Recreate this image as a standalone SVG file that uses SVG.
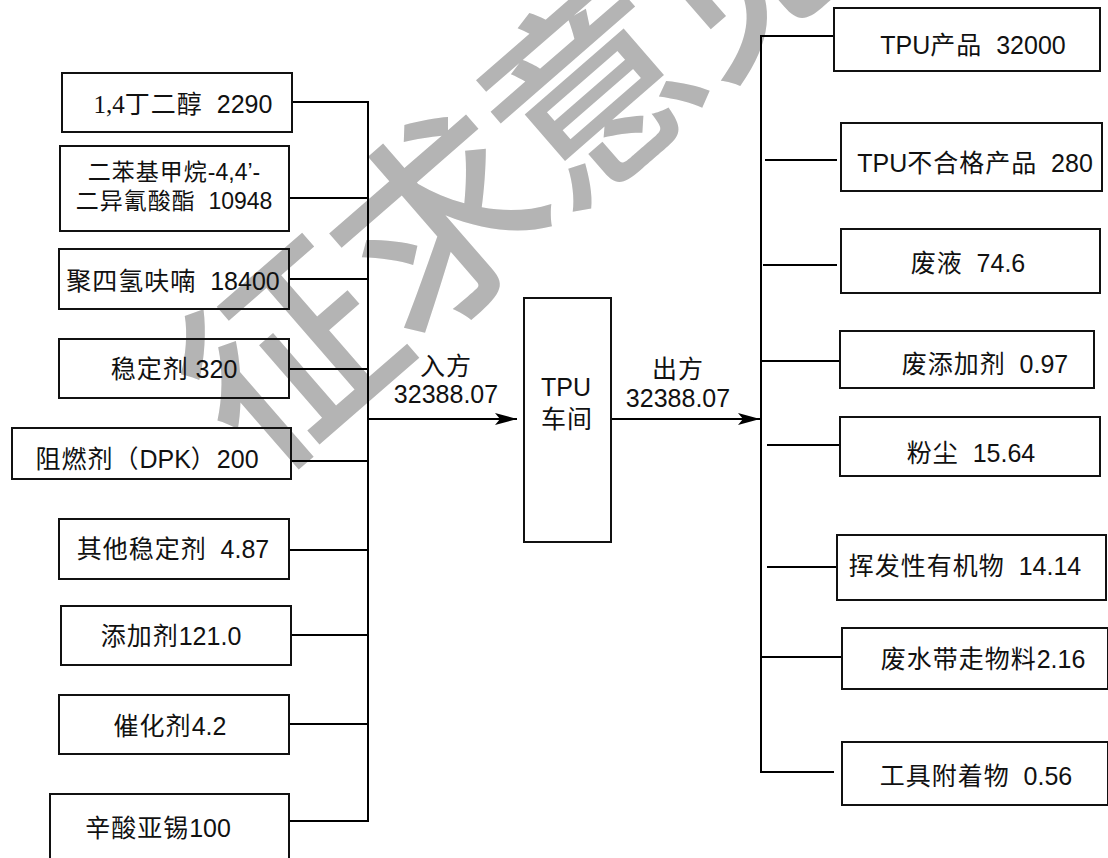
<svg xmlns="http://www.w3.org/2000/svg" width="1108" height="858" viewBox="0 0 1108 858">
<style>
  .box { fill: none; stroke: #111; stroke-width: 2; }
  .ln { fill: none; stroke: #000; stroke-width: 2; }
  text { font-family: "Liberation Sans", "Noto Sans CJK SC", Arial, sans-serif; font-size: 25px; fill: #111; text-anchor: middle; white-space: pre; }
  .c { font-family: "Noto Sans CJK SC", sans-serif; letter-spacing: 1px; }
  .s { font-family: "Liberation Serif", serif; }
  .sm { font-size: 23px; }
  .wm { font-family: "Noto Sans CJK SC", sans-serif; font-size: 206px; font-weight: 500; letter-spacing: -6px; fill: #b4b4b4; dominant-baseline: central; }
</style>
<defs>
  <marker id="arr" markerUnits="userSpaceOnUse" markerWidth="22" markerHeight="12" refX="22" refY="6" orient="auto">
    <path d="M0,0 L22,6 L0,12 L5,6 Z" fill="#000"/>
  </marker>
</defs>
<rect width="1108" height="858" fill="#fff"/>
<text class="wm" x="504" y="149" transform="rotate(-41 504 149)">征求意见</text>

<g id="connectors">
  <line class="ln" x1="292" y1="102" x2="368" y2="102"/>
  <line class="ln" x1="289" y1="198" x2="368" y2="198"/>
  <line class="ln" x1="289" y1="279" x2="368" y2="279"/>
  <line class="ln" x1="289" y1="369" x2="368" y2="369"/>
  <line class="ln" x1="291" y1="461" x2="368" y2="461"/>
  <line class="ln" x1="289" y1="550" x2="368" y2="550"/>
  <line class="ln" x1="291" y1="635" x2="368" y2="635"/>
  <line class="ln" x1="289" y1="724" x2="368" y2="724"/>
  <line class="ln" x1="289" y1="821" x2="368" y2="821"/>
  <line class="ln" x1="368" y1="101" x2="368" y2="822"/>
  <line class="ln" x1="368" y1="419" x2="517" y2="419" marker-end="url(#arr)"/>
  <line class="ln" x1="611" y1="419" x2="760" y2="419" marker-end="url(#arr)"/>
  <line class="ln" x1="761" y1="35" x2="761" y2="773"/>
  <line class="ln" x1="761" y1="36" x2="834" y2="36"/>
  <line class="ln" x1="765" y1="160" x2="837" y2="160"/>
  <line class="ln" x1="763" y1="265" x2="837" y2="265"/>
  <line class="ln" x1="761" y1="361" x2="840" y2="361"/>
  <line class="ln" x1="767" y1="445" x2="840" y2="445"/>
  <line class="ln" x1="767" y1="567" x2="837" y2="567"/>
  <line class="ln" x1="761" y1="657" x2="842" y2="657"/>
  <line class="ln" x1="761" y1="772" x2="834" y2="772"/>
</g>

<g id="in-1"><rect class="box" x="62" y="73" width="230" height="59"/><text x="183" y="113"><tspan class="s">1,4</tspan><tspan class="c">丁二醇</tspan>  2290</text></g>
<g id="in-2"><rect class="box" x="60" y="146" width="229" height="85"/><text class="sm" x="174" y="180"><tspan class="c">二苯基甲烷</tspan>-4,4’-</text><text class="sm" x="174" y="209"><tspan class="c">二异氰酸酯</tspan>  10948</text></g>
<g id="in-3"><rect class="box" x="59" y="249" width="230" height="60"/><text x="173" y="290"><tspan class="c">聚四氢呋喃</tspan>  18400</text></g>
<g id="in-4"><rect class="box" x="59" y="339" width="230" height="59"/><text x="174" y="378"><tspan class="c">稳定剂</tspan> 320</text></g>
<g id="in-5"><rect class="box" x="12" y="428" width="279" height="51"/><text x="147" y="468"><tspan class="c">阻燃剂（</tspan>DPK<tspan class="c">）</tspan>200</text></g>
<g id="in-6"><rect class="box" x="59" y="519" width="230" height="60"/><text x="173" y="558"><tspan class="c">其他稳定剂</tspan>  4.87</text></g>
<g id="in-7"><rect class="box" x="61" y="606" width="230" height="59"/><text x="171" y="645"><tspan class="c">添加剂</tspan>121.0</text></g>
<g id="in-8"><rect class="box" x="59" y="695" width="230" height="59"/><text x="170" y="735"><tspan class="c">催化剂</tspan>4.2</text></g>
<g id="in-9"><rect class="box" x="50" y="794" width="239" height="80"/><text x="158" y="837"><tspan class="c">辛酸亚锡</tspan>100</text></g>

<g id="workshop"><rect class="box" x="524" y="298" width="87" height="244"/><text x="566" y="396">TPU</text><text x="567" y="428" class="c">车间</text></g>
<g id="in-label"><text x="446" y="375" class="c">入方</text><text x="446" y="403">32388.07</text></g>
<g id="out-label"><text x="678" y="378" class="c">出方</text><text x="678" y="407">32388.07</text></g>

<g id="out-1"><rect class="box" x="834" y="8" width="266" height="63"/><text x="973" y="54">TPU<tspan class="c">产品</tspan>  32000</text></g>
<g id="out-2"><rect class="box" x="841" y="123" width="261" height="68"/><text x="975" y="172">TPU<tspan class="c">不合格产品</tspan>  280</text></g>
<g id="out-3"><rect class="box" x="841" y="229" width="259" height="64"/><text x="968" y="272"><tspan class="c">废液</tspan>  74.6</text></g>
<g id="out-4"><rect class="box" x="840" y="331" width="254" height="57"/><text x="985" y="373"><tspan class="c">废添加剂</tspan>  0.97</text></g>
<g id="out-5"><rect class="box" x="840" y="417" width="260" height="59"/><text x="971" y="462"><tspan class="c">粉尘</tspan>  15.64</text></g>
<g id="out-6"><rect class="box" x="837" y="535" width="269" height="65"/><text x="965" y="575"><tspan class="c">挥发性有机物</tspan>  14.14</text></g>
<g id="out-7"><rect class="box" x="842" y="628" width="266" height="61"/><text x="983" y="668"><tspan class="c">废水带走物料</tspan>2.16</text></g>
<g id="out-8"><rect class="box" x="842" y="742" width="266" height="63"/><text x="976" y="785"><tspan class="c">工具附着物</tspan>  0.56</text></g>
</svg>
